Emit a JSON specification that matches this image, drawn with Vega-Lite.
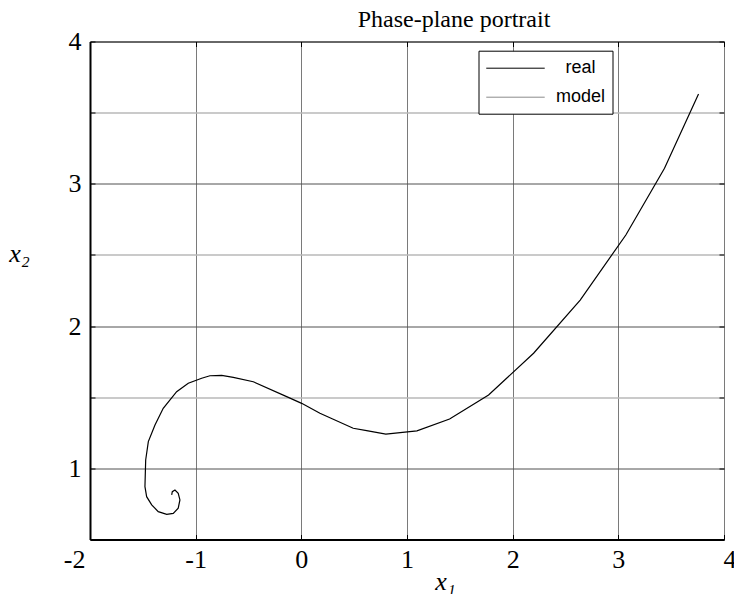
{
  "$schema": "https://vega.github.io/schema/vega-lite/v6.json",
  "autosize": "none",
  "width": 634,
  "height": 498,
  "padding": {"left": 90, "top": 41.5, "right": 10, "bottom": 54.5},
  "background": "white",
  "title": {
    "text": "Phase-plane portrait",
    "font": "Liberation Serif",
    "fontSize": 24,
    "fontWeight": "normal",
    "color": "black",
    "anchor": "middle",
    "frame": "group",
    "dx": 47,
    "dy": 36,
    "baseline": "alphabetic",
    "offset": 13.5
  },
  "config": {
    "view": {"stroke": "black", "strokeWidth": 1},
    "axis": {
      "labelFont": "Liberation Serif",
      "labelFontSize": 26,
      "labelColor": "black",
      "titleFont": "Liberation Serif",
      "titleFontStyle": "italic",
      "titleFontWeight": "normal",
      "titleFontSize": 26,
      "titleColor": "black",
      "tickColor": "black",
      "domainColor": "black"
    }
  },
  "data": {
    "values": [
      {"step": 0, "x1": 3.759, "x2": 3.631, "series": "real"},
      {"step": 1, "x1": 3.437, "x2": 3.109, "series": "real"},
      {"step": 2, "x1": 3.071, "x2": 2.640, "series": "real"},
      {"step": 3, "x1": 2.639, "x2": 2.183, "series": "real"},
      {"step": 4, "x1": 2.198, "x2": 1.809, "series": "real"},
      {"step": 5, "x1": 1.772, "x2": 1.516, "series": "real"},
      {"step": 6, "x1": 1.403, "x2": 1.347, "series": "real"},
      {"step": 7, "x1": 1.094, "x2": 1.263, "series": "real"},
      {"step": 8, "x1": 0.800, "x2": 1.240, "series": "real"},
      {"step": 9, "x1": 0.618, "x2": 1.265, "series": "real"},
      {"step": 10, "x1": 0.491, "x2": 1.282, "series": "real"},
      {"step": 11, "x1": 0.176, "x2": 1.387, "series": "real"},
      {"step": 12, "x1": 0.003, "x2": 1.457, "series": "real"},
      {"step": 13, "x1": -0.139, "x2": 1.504, "series": "real"},
      {"step": 14, "x1": -0.455, "x2": 1.609, "series": "real"},
      {"step": 15, "x1": -0.644, "x2": 1.640, "series": "real"},
      {"step": 16, "x1": -0.754, "x2": 1.654, "series": "real"},
      {"step": 17, "x1": -0.865, "x2": 1.651, "series": "real"},
      {"step": 18, "x1": -0.943, "x2": 1.633, "series": "real"},
      {"step": 19, "x1": -1.070, "x2": 1.598, "series": "real"},
      {"step": 20, "x1": -1.180, "x2": 1.539, "series": "real"},
      {"step": 21, "x1": -1.307, "x2": 1.422, "series": "real"},
      {"step": 22, "x1": -1.385, "x2": 1.305, "series": "real"},
      {"step": 23, "x1": -1.448, "x2": 1.188, "series": "real"},
      {"step": 24, "x1": -1.473, "x2": 1.059, "series": "real"},
      {"step": 25, "x1": -1.480, "x2": 0.871, "series": "real"},
      {"step": 26, "x1": -1.464, "x2": 0.801, "series": "real"},
      {"step": 27, "x1": -1.416, "x2": 0.743, "series": "real"},
      {"step": 28, "x1": -1.354, "x2": 0.696, "series": "real"},
      {"step": 29, "x1": -1.274, "x2": 0.677, "series": "real"},
      {"step": 30, "x1": -1.212, "x2": 0.684, "series": "real"},
      {"step": 31, "x1": -1.165, "x2": 0.720, "series": "real"},
      {"step": 32, "x1": -1.149, "x2": 0.778, "series": "real"},
      {"step": 33, "x1": -1.165, "x2": 0.825, "series": "real"},
      {"step": 34, "x1": -1.196, "x2": 0.848, "series": "real"},
      {"step": 35, "x1": -1.221, "x2": 0.836, "series": "real"},
      {"step": 36, "x1": -1.227, "x2": 0.813, "series": "real"}
    ]
  },
  "layer": [
    {
      "mark": {"type": "line", "strokeWidth": 1.2, "interpolate": "linear"},
      "encoding": {
        "x": {
          "field": "x1",
          "type": "quantitative",
          "scale": {"domain": [-2, 4], "nice": false, "zero": false},
          "axis": {
            "orient": "bottom",
            "title": "x₁",
            "titleAngle": 0,
            "titleX": 355,
            "titleY": 50,
            "titleAlign": "center",
            "titleBaseline": "alphabetic",
            "values": [-2, -1, 0, 1, 2, 3, 4],
            "labelExpr": "'' + datum.value",
            "domainWidth": 2,
            "tickSize": -5,
            "tickWidth": 1,
            "labelPadding": 12,
            "labelAlign": {
              "condition": [
                {"test": "datum.value === -2", "value": "right"},
                {"test": "datum.value === 4", "value": "left"}
              ],
              "value": "center"
            },
            "labelOffset": {
              "condition": [
                {"test": "datum.value === -2", "value": -5},
                {"test": "datum.value === 4", "value": -1}
              ],
              "value": 0
            },
            "labelBaseline": "top",
            "grid": true,
            "gridColor": "#7a7a7a",
            "gridWidth": 1,
            "gridOpacity": 1
          }
        },
        "y": {
          "field": "x2",
          "type": "quantitative",
          "scale": {"domain": [0.5, 4], "nice": false, "zero": false},
          "axis": {
            "orient": "left",
            "title": "x₂",
            "titleAngle": 0,
            "titleX": -71,
            "titleY": 220,
            "titleAlign": "center",
            "titleBaseline": "alphabetic",
            "values": [0.5, 1, 1.5, 2, 2.5, 3, 3.5, 4],
            "labelExpr": "datum.value % 1 === 0 ? '' + datum.value : ''",
            "domainWidth": 2,
            "tickSize": -5,
            "tickWidth": 1,
            "labelPadding": 14,
            "labelBaseline": "middle",
            "grid": true,
            "gridColor": {
              "condition": {"test": "datum.value % 1 === 0", "value": "#505050"},
              "value": "#b8b8b8"
            },
            "gridWidth": {
              "condition": {"test": "datum.value % 1 === 0", "value": 1},
              "value": 1.5
            },
            "gridOpacity": 1
          }
        },
        "order": {"field": "step", "type": "quantitative"},
        "stroke": {
          "field": "series",
          "type": "nominal",
          "scale": {"domain": ["real", "model"], "range": ["#000000", "#8c8c8c"]},
          "legend": {
            "title": null,
            "orient": "none",
            "legendX": 388.5,
            "legendY": 9.2,
            "direction": "vertical",
            "symbolType": "M-1,0H5",
            "symbolSize": 380,
            "symbolStrokeWidth": 1,
            "labelFont": "Liberation Sans",
            "labelFontSize": 18,
            "labelColor": "black",
            "labelAlign": "center",
            "labelOffset": 74,
            "padding": 7,
            "rowPadding": 9,
            "strokeColor": "black",
            "fillColor": "white"
          }
        }
      }
    },
    {
      "mark": {"type": "point", "opacity": 0},
      "encoding": {
        "x": {
          "field": "x1",
          "type": "quantitative",
          "scale": {"domain": [-2, 4], "nice": false, "zero": false},
          "axis": {
            "orient": "top",
            "title": null,
            "values": [-2, -1, 0, 1, 2, 3, 4],
            "labels": false,
            "domain": false,
            "grid": false,
            "tickSize": -5,
            "minExtent": 0,
            "maxExtent": 0
          }
        },
        "y": {
          "field": "x2",
          "type": "quantitative",
          "scale": {"domain": [0.5, 4], "nice": false, "zero": false},
          "axis": {
            "orient": "right",
            "title": null,
            "values": [0.5, 1, 1.5, 2, 2.5, 3, 3.5, 4],
            "labels": false,
            "domain": false,
            "grid": false,
            "tickSize": -5,
            "minExtent": 0,
            "maxExtent": 0
          }
        }
      }
    }
  ],
  "resolve": {"axis": {"x": "independent", "y": "independent"}}
}
